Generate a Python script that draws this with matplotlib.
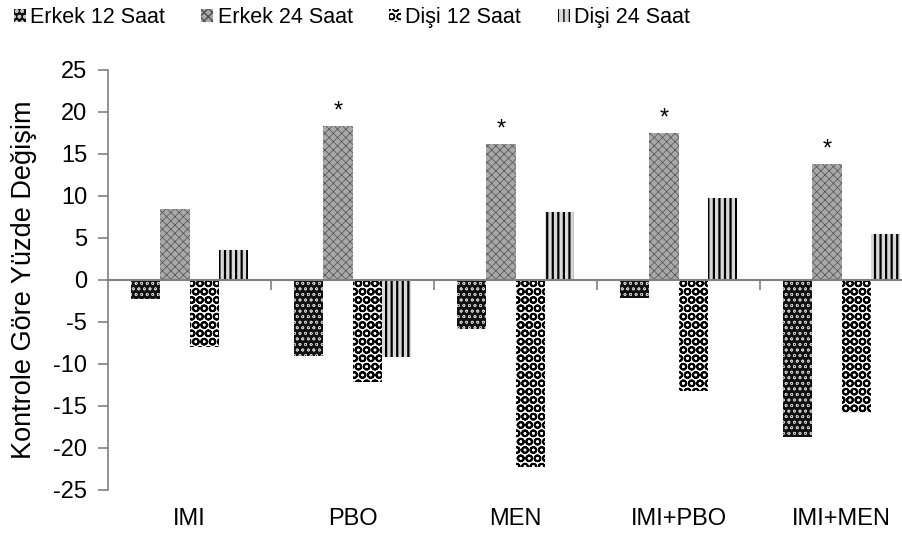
import matplotlib.pyplot as plt
import numpy as np

plt.rcParams['font.family'] = ['Liberation Sans', 'DejaVu Sans']
plt.rcParams['axes.unicode_minus'] = False

# Data: percent change relative to control
categories = ['IMI', 'PBO', 'MEN', 'IMI+PBO', 'IMI+MEN']
erkek_12 = [-2.3, -9.1, -5.8, -2.1, -18.7]
erkek_24 = [8.5, 18.3, 16.2, 17.5, 13.8]
disi_12 = [-8.0, -12.2, -22.3, -13.2, -15.8]
disi_24 = [3.6, -9.2, 8.1, 9.8, 5.5]
significant = [False, True, True, True, True]  # asterisk over Erkek 24 Saat
series_names = ['Erkek 12 Saat', 'Erkek 24 Saat', 'Dişi 12 Saat', 'Dişi 24 Saat']
yticks = np.arange(-25, 26, 5)

fig = plt.figure(figsize=(9.02, 5.42), dpi=100)
ax = fig.add_axes([108 / 902, 1 - 490 / 542, 1 - 108 / 902, 420 / 542])

x = np.arange(len(categories))
w = 0.178
styles = [
    dict(color='#111111', edgecolor='#c8c8c8', hatch='ooo', hlw=0.5),
    dict(color='#a8a8a8', edgecolor='#505050', hatch='xxxx', hlw=0.5),
    dict(color='#ffffff', edgecolor='#000000', hatch='OO', hlw=1.4),
    dict(color='#d8d8d8', edgecolor='#000000', hatch='|||', hlw=1.6),
]
all_vals = [erkek_12, erkek_24, disi_12, disi_24]
bars = []
for i, (vals, st) in enumerate(zip(all_vals, styles)):
    with plt.rc_context({'hatch.linewidth': st['hlw']}):
        b = ax.bar(x + (i - 1.5) * w, vals, w, color=st['color'], edgecolor=st['edgecolor'],
                   hatch=st['hatch'], linewidth=0, label=series_names[i])
    bars.append(b)

for i, sig in enumerate(significant):
    if sig:
        ax.text(x[i] - 0.5 * w, erkek_24[i] + 0.4, '*', ha='center', va='bottom', fontsize=17)

ax.set_ylim(-25, 25)
ax.set_xlim(-0.5, -0.5 + (902 - 108) / 163)
ax.set_yticks(yticks)
ax.tick_params(axis='y', labelsize=17, length=7, color='#808080', width=1.2, pad=8)

ax.spines['top'].set_visible(False)
ax.spines['right'].set_visible(False)
ax.spines['left'].set_color('#808080')
ax.spines['left'].set_linewidth(1.2)
ax.spines['bottom'].set_position(('data', 0))
ax.spines['bottom'].set_color('#808080')
ax.spines['bottom'].set_linewidth(1.5)
ax.spines['bottom'].set_zorder(5)

ax.set_xticks(x[:-1] + 0.5)
ax.set_xticklabels([])
ax.tick_params(axis='x', length=7, color='#808080', width=1.2, direction='out')
for i, c in enumerate(categories):
    ax.text(x[i], -0.068, c, transform=ax.get_xaxis_transform(), ha='center', va='center',
            fontsize=17)

ax.set_ylabel('Kontrole Göre Yüzde Değişim', fontsize=19.5)
ax.yaxis.set_label_coords(-0.09, 0.5)

fig.legend(handles=bars, labels=series_names, loc='center', bbox_to_anchor=(0.39, 0.968), ncol=4,
           frameon=False, fontsize=15.5, handlelength=0.55, handleheight=0.55, handletextpad=0.2,
           columnspacing=1.7)

fig.savefig('out.png', dpi=100)
